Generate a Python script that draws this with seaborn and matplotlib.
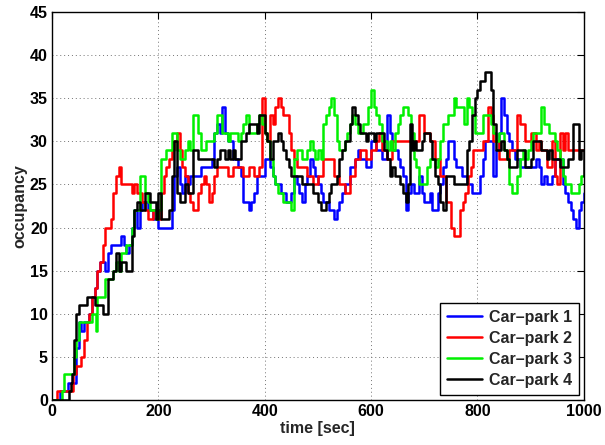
import matplotlib
matplotlib.use("Agg")
import matplotlib.pyplot as plt
import numpy as np
import pandas as pd
import seaborn as sns

series_names = ["Car\u2013park 1", "Car\u2013park 2", "Car\u2013park 3", "Car\u2013park 4"]
series_colors = ["#0000ff", "#ff0000", "#00f000", "#000000"]

# Car-park 1 (blue)
t1 = [0, 15, 20, 30, 40, 45, 50, 55, 60, 70, 75, 80, 85, 90, 95, 100, 105, 110, 120, 130, 135, 140, 145, 150,
      155, 160, 165, 170, 180, 190, 200, 210, 220, 225, 230, 235, 240, 245, 250, 255, 260, 270, 280, 290, 300,
      305, 310, 315, 320, 325, 330, 340, 350, 355, 360, 370, 375, 380, 385, 390, 400, 410, 415, 420, 430, 440,
      450, 455, 460, 465, 470, 475, 480, 485, 490, 495, 500, 505, 510, 515, 520, 525, 530, 535, 540, 545, 550,
      555, 560, 570, 575, 580, 590, 600, 610, 615, 620, 625, 630, 635, 640, 650, 655, 660, 665, 670, 675, 680,
      690, 695, 700, 710, 715, 720, 725, 730, 735, 740, 745, 750, 755, 760, 765, 770, 775, 780, 790, 800, 805,
      810, 815, 825, 830, 835, 840, 845, 850, 855, 860, 865, 870, 880, 900, 910, 915, 920, 925, 930, 940, 945,
      955, 960, 965, 970, 975, 980, 985, 990, 995, 1000]
v1 = [0, 1, 1, 2, 2, 6, 9, 8, 9, 10, 12, 13, 15, 16, 16, 15, 17, 18, 18, 19, 18, 17, 18, 20,
      22, 20, 22, 23, 22, 21, 20, 20, 20, 22, 26, 27, 25, 24, 26, 25, 26, 26, 27, 27, 28,
      31, 32, 31, 34, 31, 30, 28, 27, 26, 23, 22, 23, 24, 26, 26, 28, 27, 26, 25, 24, 23,
      24, 26, 25, 24, 23, 25, 26, 28, 27, 26, 25, 24, 23, 23, 22, 22, 21, 22, 23, 24, 25,
      25, 27, 28, 29, 28, 27, 30, 29, 29, 28, 28, 33, 31, 29, 28, 27, 26, 22, 24, 25, 24,
      26, 24, 23, 24, 22, 22, 24, 25, 27, 28, 30, 30, 28, 27, 27, 26, 26, 25, 24, 24, 26,
      28, 30, 30, 26, 29, 31, 35, 33, 31, 30, 29, 28, 27, 27, 28, 27, 25, 26, 25, 26, 28,
      28, 25, 24, 23, 22, 21, 20, 22, 23, 24]

# Car-park 2 (red)
t2 = [0, 10, 40, 45, 55, 60, 65, 70, 75, 80, 85, 90, 95, 100, 110, 115, 120, 125, 130, 150, 155, 160, 170,
      175, 180, 190, 200, 205, 210, 215, 220, 225, 230, 235, 240, 245, 250, 255, 260, 265, 275, 280, 285, 290,
      295, 300, 305, 310, 330, 340, 360, 370, 380, 390, 395, 400, 405, 410, 415, 420, 425, 430, 435, 445, 450,
      455, 460, 480, 490, 500, 510, 530, 540, 550, 560, 570, 580, 590, 600, 610, 615, 620, 630, 640, 680, 690,
      700, 710, 720, 730, 740, 750, 755, 768, 772, 777, 782, 787, 792, 797, 810, 820, 825, 830, 840, 860, 875,
      880, 890, 900, 910, 915, 920, 930, 940, 945, 950, 955, 960, 965, 970, 1000]
v2 = [0, 1, 3, 4, 5, 7, 9, 10, 12, 13, 15, 16, 18, 20, 21, 24, 26, 27, 25, 24, 25, 24, 23,
      22, 21, 22, 21, 24, 26, 27, 28, 29, 30, 31, 29, 27, 26, 24, 23, 22, 24, 25, 26, 25,
      23, 24, 26, 27, 26, 27, 26, 27, 26, 27, 35, 31, 30, 33, 32, 34, 35, 34, 33, 31, 29,
      28, 27, 26, 25, 26, 28, 26, 25, 24, 26, 28, 29, 28, 29, 30, 31, 29, 28, 30, 30, 33,
      31, 30, 28, 26, 23, 20, 19, 22, 23, 24, 26, 27, 29, 29, 30, 34, 33, 30, 28, 29, 33,
      32, 30, 31, 29, 30, 29, 27, 30, 26, 25, 31, 29, 31, 29, 29]

# Car-park 3 (green)
t3 = [0, 18, 22, 42, 46, 50, 75, 83, 85, 100, 115, 120, 125, 130, 140, 150, 155, 165, 175, 180, 185, 195,
      200, 205, 215, 225, 235, 240, 250, 255, 260, 265, 275, 280, 290, 305, 310, 320, 330, 335, 350, 355,
      360, 365, 370, 385, 390, 395, 400, 405, 410, 415, 420, 425, 435, 450, 455, 460, 470, 480, 485, 490,
      495, 500, 505, 510, 515, 520, 525, 530, 535, 540, 550, 555, 560, 565, 570, 575, 585, 595, 600, 605,
      610, 615, 620, 630, 635, 640, 645, 650, 655, 660, 670, 675, 680, 685, 690, 705, 710, 720, 725, 730,
      735, 745, 755, 760, 775, 780, 785, 790, 795, 810, 825, 830, 835, 840, 850, 855, 860, 865, 875, 880,
      885, 890, 895, 900, 905, 920, 925, 935, 945, 950, 955, 960, 965, 975, 990, 995, 1000]
v3 = [0, 1, 3, 5, 7, 9, 10, 8, 12, 14, 15, 16, 15, 17, 18, 20, 22, 26, 24, 23, 22, 21,
      22, 28, 29, 31, 29, 28, 29, 30, 29, 33, 31, 29, 30, 31, 33, 31, 30, 31, 30, 31,
      32, 33, 31, 32, 33, 32, 31, 30, 28, 26, 25, 24, 23, 22, 28, 29, 28, 29, 30, 29,
      28, 29, 28, 32, 33, 34, 35, 33, 30, 29, 30, 31, 32, 33, 32, 31, 32, 34, 36, 34,
      33, 32, 30, 29, 30, 29, 31, 32, 33, 34, 33, 31, 28, 27, 25, 27, 28, 27, 28, 30,
      32, 33, 35, 34, 32, 35, 34, 33, 31, 33, 32, 31, 30, 31, 29, 28, 25, 24, 26, 28,
      29, 28, 29, 30, 31, 34, 32, 31, 30, 29, 28, 26, 25, 24, 25, 26, 26]

# Car-park 4 (black)
t4 = [0, 32, 35, 38, 42, 45, 50, 65, 80, 95, 105, 115, 120, 125, 130, 140, 150, 155, 160, 165, 175, 185,
      195, 200, 205, 220, 225, 230, 235, 240, 250, 255, 265, 275, 305, 310, 315, 325, 330, 335, 340, 345,
      355, 365, 370, 385, 390, 400, 405, 410, 415, 425, 430, 435, 440, 445, 450, 470, 490, 500, 505, 515,
      520, 525, 535, 540, 545, 550, 560, 565, 570, 575, 580, 590, 595, 605, 610, 625, 630, 635, 640, 645,
      655, 660, 665, 670, 673, 676, 680, 685, 695, 700, 710, 715, 720, 725, 730, 735, 740, 755, 780, 785,
      790, 795, 800, 805, 815, 825, 830, 835, 845, 850, 855, 860, 875, 890, 900, 905, 920, 930, 935, 940,
      955, 970, 980, 990, 995, 1000]
v4 = [0, 1, 2, 3, 7, 10, 11, 12, 11, 10, 14, 15, 17, 15, 16, 15, 19, 22, 23, 22, 24, 23,
      21, 24, 21, 22, 26, 30, 24, 23, 25, 24, 29, 28, 27, 28, 29, 28, 29, 28, 29, 28,
      30, 31, 32, 31, 33, 31, 30, 28, 30, 31, 30, 29, 28, 27, 26, 25, 24, 23, 22, 23,
      24, 25, 26, 28, 29, 30, 32, 34, 33, 32, 31, 30, 31, 30, 31, 29, 28, 26, 27, 26,
      25, 24, 23, 25, 32, 29, 30, 29, 30, 31, 30, 28, 26, 25, 23, 22, 26, 25, 29, 30,
      33, 35, 36, 37, 38, 36, 32, 29, 30, 29, 28, 27, 29, 27, 28, 30, 29, 28, 29, 28,
      27, 28, 32, 28, 29, 26]

x_ticks = [0, 200, 400, 600, 800, 1000]
y_ticks = [0, 5, 10, 15, 20, 25, 30, 35, 40, 45]

frames = []
for name, t, v in zip(series_names, [t1, t2, t3, t4], [v1, v2, v3, v4]):
    frames.append(pd.DataFrame({"time": t, "occupancy": v, "park": name}))
df = pd.concat(frames, ignore_index=True)

sns.set_theme(style="white")
plt.rcParams["font.family"] = ["Liberation Sans", "DejaVu Sans"]
plt.rcParams["font.weight"] = "bold"

fig = plt.figure(figsize=(6.05, 4.45), dpi=100)
ax = fig.add_axes([0.086, 0.101, 0.879, 0.872])

sns.lineplot(data=df, x="time", y="occupancy", hue="park", palette=series_colors,
             hue_order=series_names, drawstyle="steps-post", linewidth=1.8,
             estimator=None, sort=True, ax=ax)

ax.set_xlim(0, 1000)
ax.set_ylim(0, 45)
ax.set_xticks(x_ticks)
ax.set_yticks(y_ticks)
ax.grid(True, linestyle=(0, (1, 3)), color="0.45", linewidth=0.7)
ax.set_axisbelow(True)
ax.tick_params(direction="in", top=True, right=True, length=5, width=0.8,
               labelsize=11.5, colors="black", pad=3)
for lab in ax.get_xticklabels() + ax.get_yticklabels():
    lab.set_fontweight("bold")
for s in ax.spines.values():
    s.set_color("black")
    s.set_linewidth(1.0)

ax.set_xlabel("time [sec]", fontsize=11.5, fontweight="bold", labelpad=1)
ax.set_ylabel("occupancy", fontsize=11.5, fontweight="bold", labelpad=2)

handles, labels = ax.get_legend_handles_labels()
leg = ax.legend(handles, labels, loc="lower right", frameon=True,
                fancybox=False, edgecolor="black", framealpha=1, handlelength=2.2,
                borderpad=0.45, labelspacing=0.38, handletextpad=0.4,
                borderaxespad=0.3, prop={"weight": "bold", "size": 11.5})
leg.get_frame().set_linewidth(1.0)
for line in leg.get_lines():
    line.set_linewidth(1.8)

fig.savefig("out.png", dpi=100)
